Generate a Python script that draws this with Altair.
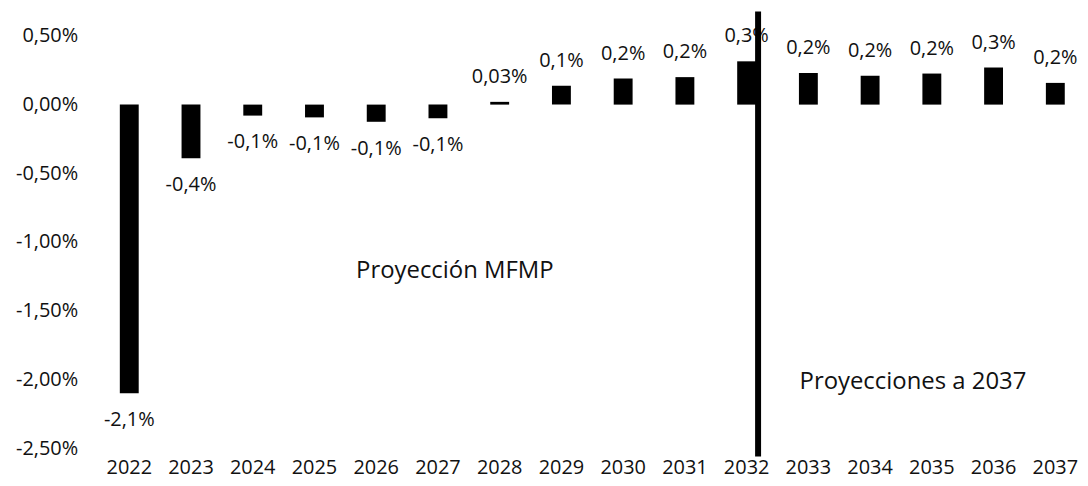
import altair as alt
import pandas as pd

years = [str(y) for y in range(2022, 2038)]
values = [-2.10, -0.39, -0.08, -0.093, -0.125, -0.10, 0.02, 0.138, 0.19, 0.20,
          0.315, 0.23, 0.21, 0.226, 0.27, 0.158]
value_labels = ["-2,1%", "-0,4%", "-0,1%", "-0,1%", "-0,1%", "-0,1%", "0,03%", "0,1%",
                "0,2%", "0,2%", "0,3%", "0,2%", "0,2%", "0,2%", "0,3%", "0,2%"]
y_ticks = [-2.5, -2.0, -1.5, -1.0, -0.5, 0.0, 0.5]

divider_year = ["2032"]
note_texts = ["Proyección MFMP", "Proyecciones a 2037"]
note_years = ["2027", "2035"]
note_values = [-1.21, -2.018]

FONT = "Open Sans"

df = pd.DataFrame({"year": years, "value": values, "label": value_labels})
df_pos = df[df["value"] >= 0]
df_neg = df[df["value"] < 0]

x_enc = alt.X("year:O", sort=years,
              scale=alt.Scale(paddingInner=0.694, paddingOuter=0.15),
              axis=alt.Axis(title=None, labelAngle=0, domain=False, ticks=False,
                            labelPadding=9, labelFont=FONT, labelFontSize=20,
                            labelColor="#111"))
y_enc = alt.Y("value:Q", scale=alt.Scale(domain=[-2.5, 0.5], nice=False, zero=False),
              axis=alt.Axis(title=None, values=y_ticks, grid=False, domain=False,
                            ticks=False, labelPadding=33, labelFont=FONT,
                            labelFontSize=20, labelColor="#111",
                            labelExpr="replace(replace(format(datum.value, '.2f'), '.', ','), '\u2212', '-') + '%'"))

bars = alt.Chart(df).mark_bar(color="black").encode(x=x_enc, y=y_enc)

txt_pos = alt.Chart(df_pos).mark_text(font=FONT, fontSize=20, dy=-25, baseline="middle",
                                      color="#111").encode(
    x=alt.X("year:O", sort=years), y="value:Q", text="label:N")
txt_neg = alt.Chart(df_neg).mark_text(font=FONT, fontSize=20, dy=27, baseline="middle",
                                      color="#111").encode(
    x=alt.X("year:O", sort=years), y="value:Q", text="label:N")

rule = alt.Chart(pd.DataFrame({"year": divider_year})).mark_rule(
    color="black", strokeWidth=6, xOffset=11.5).encode(
    x=alt.X("year:O", sort=years), y=alt.value(-24.5), y2=alt.value(422.5))

note1 = alt.Chart(pd.DataFrame({"year": [note_years[0]], "value": [note_values[0]],
                                "text": [note_texts[0]]})).mark_text(
    font=FONT, fontSize=24, baseline="middle", color="#111", dx=17).encode(
    x=alt.X("year:O", sort=years), y="value:Q", text="text:N")
note2 = alt.Chart(pd.DataFrame({"year": [note_years[1]], "value": [note_values[1]],
                                "text": [note_texts[1]]})).mark_text(
    font=FONT, fontSize=24, baseline="middle", color="#111", dx=-19).encode(
    x=alt.X("year:O", sort=years), y="value:Q", text="text:N")

chart = alt.layer(bars, txt_pos, txt_neg, rule, note1, note2).properties(
    width=967.6, height=414,
    autosize=alt.AutoSizeParams(type="none"),
    padding={"left": 103, "top": 27, "right": 6, "bottom": 36},
    background="white",
).configure_view(stroke=None)

chart.save("out.html", embed_options={"renderer": "svg", "actions": False})
